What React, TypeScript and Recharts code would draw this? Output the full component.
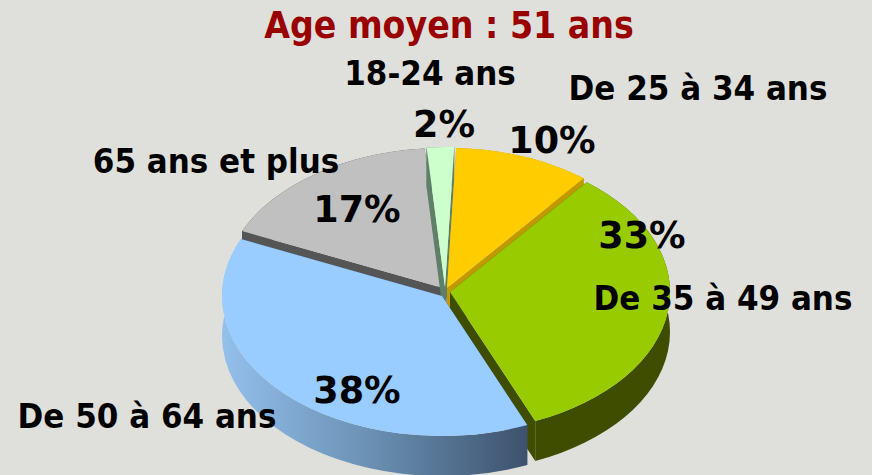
import { PieChart, Pie } from 'recharts';

// order starts at the grey slice so the blue one paints last
const categories = ['65 ans et plus', '18-24 ans', 'De 25 à 34 ans', 'De 35 à 49 ans', 'De 50 à 64 ans'];
const shares = [17, 2, 10, 33, 38];

const topColors = ['#C0C0C0', '#CCFFCC', '#FFCC00', '#99CC00', '#99CCFF'];
const wallColors = ['#555555', '#5F7F68', '#C29A00', '#3F4D00', 'url(#blueWall)'];

// explosion of each slice from the pie centre
const shiftX = [1, 3, 5, 8, 0];
const shiftY = [-2, -3, -2, 2, 6];

const nameX = [216, 430, 698, 723, 147];
const nameY = [173, 85, 100, 310, 428];
const pctX = [357, 444, 552, 642, 357];
const pctY = [222, 137, 153, 248, 403];

const FONT = '"DejaVu Sans Condensed", "DejaVu Sans", sans-serif';
const PCT_FONT = '"DejaVu Sans", sans-serif';
const DEPTH = 40;
const SQUASH = 140 / 220;

function Slice(props: any) {
  const { cx, cy, outerRadius, startAngle, endAngle, index } = props;
  const i = index ?? categories.indexOf(props.name);
  const ox = cx + shiftX[i];
  const oy = cy + shiftY[i];
  const rx = outerRadius;
  const ry = outerRadius * SQUASH;
  const pt = (deg: number, dz = 0) => {
    const a = (deg * Math.PI) / 180;
    return `${ox + rx * Math.cos(a)} ${oy + dz - ry * Math.sin(a)}`;
  };
  const large = Math.abs(endAngle - startAngle) > 180 ? 1 : 0;
  const top = `M${ox} ${oy} L${pt(startAngle)} A${rx} ${ry} 0 ${large} 1 ${pt(endAngle)} Z`;
  const arcWall = `M${pt(startAngle)} A${rx} ${ry} 0 ${large} 1 ${pt(endAngle)} L${pt(endAngle, DEPTH)} A${rx} ${ry} 0 ${large} 0 ${pt(startAngle, DEPTH)} Z`;
  const sideA = `M${ox} ${oy} L${pt(startAngle)} L${pt(startAngle, DEPTH)} L${ox} ${oy + DEPTH} Z`;
  const sideB = `M${ox} ${oy} L${pt(endAngle)} L${pt(endAngle, DEPTH)} L${ox} ${oy + DEPTH} Z`;
  return (
    <g>
      <path d={sideA} fill={i === 4 ? '#3F556F' : wallColors[i]} />
      <path d={sideB} fill={i === 4 ? '#3F556F' : wallColors[i]} />
      <path d={arcWall} fill={wallColors[i]} />
      <path d={top} fill={topColors[i]} />
    </g>
  );
}

function SliceLabel({ index }: { index: number }) {
  return (
    <g fontWeight={700} fill="#000" textAnchor="middle">
      <text x={nameX[index]} y={nameY[index]} fontFamily={FONT} fontSize={34.5}>{categories[index]}</text>
      <text x={pctX[index]} y={pctY[index]} fontFamily={PCT_FONT} fontSize={36.5}>{shares[index]}%</text>
    </g>
  );
}

export default function App() {
  const data = categories.map((name, i) => ({ name, value: shares[i] }));
  return (
    <div style={{ position: 'absolute', left: 0, top: 0, width: 872, height: 475, background: '#DFE0DB', overflow: 'hidden' }}>
      <PieChart width={872} height={475} margin={{ top: 0, right: 0, bottom: 0, left: 0 }}>
        <defs>
          <linearGradient id="blueWall" gradientUnits="userSpaceOnUse" x1="222" y1="0" x2="525" y2="0">
            <stop offset="0%" stopColor="#93C0EC" />
            <stop offset="50%" stopColor="#6A8FB2" />
            <stop offset="100%" stopColor="#3D536D" />
          </linearGradient>
        </defs>
        <Pie
          data={data}
          dataKey="value"
          nameKey="name"
          cx={442}
          cy={290}
          innerRadius={0}
          outerRadius={220}
          startAngle={156}
          endAngle={-204}
          stroke="none"
          shape={Slice}
          activeShape={Slice}
          inactiveShape={Slice}
          label={(p: any) => <SliceLabel index={p.index} />}
          labelLine={false}
          isAnimationActive={false}
        />
        <text x={449} y={38} textAnchor="middle" fontFamily={FONT} fontWeight={700} fontSize={37} fill="#990000">
          Age moyen : 51 ans
        </text>
      </PieChart>
    </div>
  );
}
